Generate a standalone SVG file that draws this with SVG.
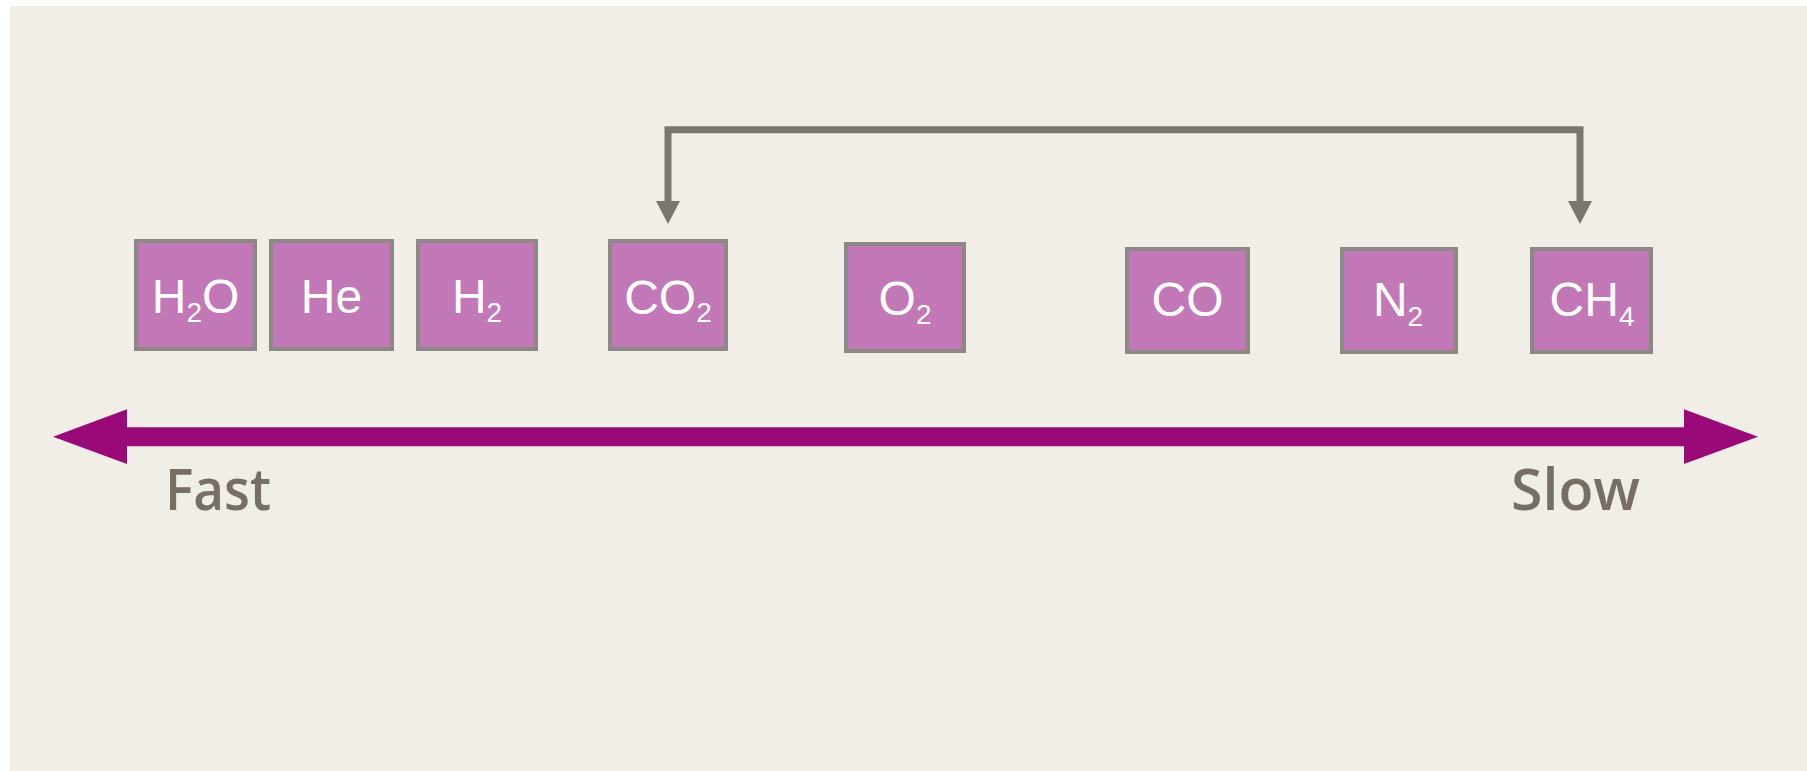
<svg xmlns="http://www.w3.org/2000/svg" width="1807" height="771" viewBox="0 0 1807 771">
<defs>
<style>
.box{fill:#c278b6;stroke:#8c8886;stroke-width:4}
.lbl{font-family:"Liberation Sans",Arial,sans-serif;font-size:48px;fill:#ffffff;text-anchor:middle}
.sub{font-size:28px}
.axis{font-family:"Open Sans","Liberation Sans",Arial,sans-serif;font-weight:600;font-size:58px;fill:#776e66}
.conn{fill:none;stroke:#7a7670;stroke-width:7}
.scale{fill:none;stroke:#990a78;stroke-width:19}
</style>
<marker id="gh" markerUnits="userSpaceOnUse" markerWidth="24" markerHeight="26" refX="0" refY="12" orient="auto-start-reverse" viewBox="0 0 24 24" overflow="visible">
<path d="M0,0 L23,12 L0,24 z" fill="#7a7670"/>
</marker>
<marker id="ph" markerUnits="userSpaceOnUse" markerWidth="74" markerHeight="56" refX="0" refY="27" orient="auto-start-reverse" viewBox="0 0 73 54" overflow="visible">
<path d="M0,0 L73,27 L0,54 z" fill="#990a78"/>
</marker>
</defs>
<rect x="0" y="0" width="1807" height="771" fill="#ffffff"/>
<rect x="10" y="6" width="1797" height="765" fill="#f1eee8"/>
<g id="connectors">
<path class="conn" d="M668,201 V129.7 H1580 V201" marker-start="url(#gh)" marker-end="url(#gh)"/>
<path class="scale" d="M127,436.7 H1684" marker-start="url(#ph)" marker-end="url(#ph)"/>
</g>
<g id="h2o"><rect class="box" x="136" y="241" width="119" height="108"/><text class="lbl" x="195.5" y="313">H<tspan class="sub" dy="9">2</tspan><tspan dy="-9">O</tspan></text></g>
<g id="he"><rect class="box" x="271" y="241" width="121" height="108"/><text class="lbl" x="331.5" y="313">He</text></g>
<g id="h2"><rect class="box" x="418" y="241" width="118" height="108"/><text class="lbl" x="477" y="313">H<tspan class="sub" dy="9">2</tspan></text></g>
<g id="co2"><rect class="box" x="610" y="241" width="116" height="108"/><text class="lbl" x="668" y="313.5">CO<tspan class="sub" dy="8.5">2</tspan></text></g>
<g id="o2"><rect class="box" x="846" y="244" width="118" height="107"/><text class="lbl" x="905" y="315">O<tspan class="sub" dy="9">2</tspan></text></g>
<g id="co"><rect class="box" x="1127" y="249" width="121" height="103"/><text class="lbl" x="1187.5" y="316">CO</text></g>
<g id="n2"><rect class="box" x="1342" y="249" width="114" height="103"/><text class="lbl" x="1398" y="316">N<tspan class="sub" dy="10">2</tspan></text></g>
<g id="ch4"><rect class="box" x="1532" y="249" width="119" height="103"/><text class="lbl" x="1592" y="316">CH<tspan class="sub" dy="10">4</tspan></text></g>
<g id="fast"><text class="axis" x="165" y="510" textLength="106" lengthAdjust="spacingAndGlyphs">Fast</text></g>
<g id="slow"><text class="axis" x="1511" y="509.5" textLength="129" lengthAdjust="spacingAndGlyphs">Slow</text></g>
</svg>
